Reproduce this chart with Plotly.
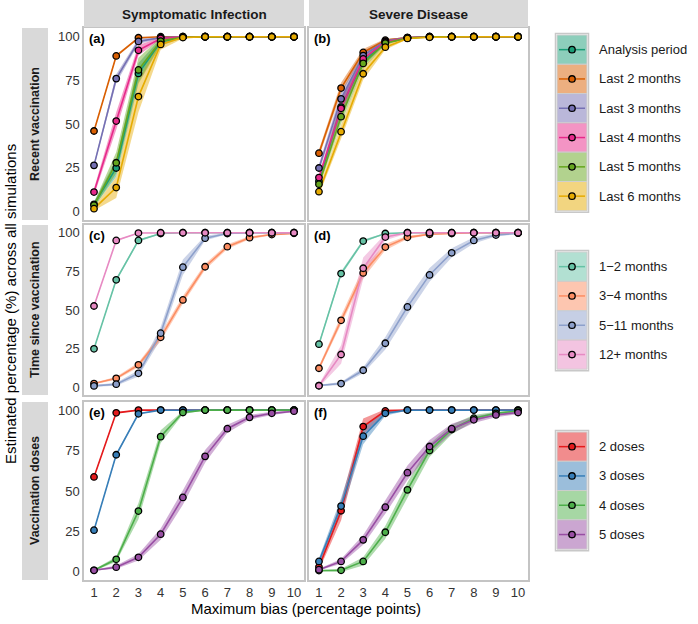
import plotly.graph_objects as go

# ============================== Data ============================== #

x_bias = [1, 2, 3, 4, 5, 6, 7, 8, 9, 10]
y_ticks = [0, 25, 50, 75, 100]

outcomes = ["Symptomatic Infection", "Severe Disease"]
factors = ["Recent vaccination", "Time since vaccination", "Vaccination doses"]
panel_tags = ["(a)", "(b)", "(c)", "(d)", "(e)", "(f)"]

recent_names = ["Analysis period", "Last 2 months", "Last 3 months",
                "Last 4 months", "Last 5 months", "Last 6 months"]
recent_colors = ["#1b9e77", "#d95f02", "#7570b3", "#e7298a", "#66a61e", "#e6ab02"]

since_names = ["1\u22122 months", "3\u22124 months", "5\u221211 months", "12+ months"]
since_colors = ["#66c2a5", "#fc8d62", "#8da0cb", "#e78ac3"]

doses_names = ["2 doses", "3 doses", "4 doses", "5 doses"]
doses_colors = ["#e41a1c", "#377eb8", "#4daf4a", "#984ea3"]

# (a) symptomatic infection / recent vaccination: estimate and ribbon half-width
recent_sympt = {
    "Analysis period": [4, 24.8, 79, 97, 99.8, 100, 100, 100, 100, 100],
    "Last 2 months": [46, 89, 99.4, 100, 100, 100, 100, 100, 100, 100],
    "Last 3 months": [26.3, 76, 97.3, 99.5, 100, 100, 100, 100, 100, 100],
    "Last 4 months": [11, 51.7, 92.2, 99, 100, 100, 100, 100, 100, 100],
    "Last 5 months": [3.5, 27.8, 81, 97.5, 99.8, 100, 100, 100, 100, 100],
    "Last 6 months": [1.5, 13.6, 65.7, 95.6, 99.5, 100, 100, 100, 100, 100],
}
recent_sympt_w = {
    "Analysis period": [1.5, 5, 6, 2, 0.5, 0, 0, 0, 0, 0],
    "Last 2 months": [0.5, 0.8, 0.5, 0, 0, 0, 0, 0, 0, 0],
    "Last 3 months": [1, 2.5, 1.5, 0.5, 0, 0, 0, 0, 0, 0],
    "Last 4 months": [2, 5, 3, 0.5, 0, 0, 0, 0, 0, 0],
    "Last 5 months": [1.5, 6, 7, 2, 0.3, 0, 0, 0, 0, 0],
    "Last 6 months": [1, 6, 9, 3, 0.5, 0, 0, 0, 0, 0],
}

# (b) severe disease / recent vaccination
recent_severe = {
    "Analysis period": [17.2, 59.7, 85.8, 96.5, 99.3, 100, 100, 100, 100, 100],
    "Last 2 months": [33.3, 70.6, 91, 98, 99.5, 100, 100, 100, 100, 100],
    "Last 3 months": [24.8, 64.4, 89.2, 97.5, 99.5, 100, 100, 100, 100, 100],
    "Last 4 months": [19.3, 59, 87.3, 97, 99.4, 100, 100, 100, 100, 100],
    "Last 5 months": [15.5, 54.2, 84.7, 96.4, 99.2, 99.9, 100, 100, 100, 100],
    "Last 6 months": [11.2, 45.6, 78.8, 94, 99, 99.7, 100, 100, 100, 100],
}
recent_severe_w = {
    "Analysis period": [2, 4, 2.5, 1, 0.3, 0, 0, 0, 0, 0],
    "Last 2 months": [2, 3, 2, 0.8, 0.2, 0, 0, 0, 0, 0],
    "Last 3 months": [2, 4, 2.5, 1, 0.3, 0, 0, 0, 0, 0],
    "Last 4 months": [2, 4, 2.5, 1, 0.3, 0, 0, 0, 0, 0],
    "Last 5 months": [2, 4, 3, 1, 0.3, 0, 0, 0, 0, 0],
    "Last 6 months": [2, 4, 3.5, 1.5, 0.5, 0.2, 0, 0, 0, 0],
}

# (c) symptomatic infection / time since vaccination
since_sympt = {
    "1\u22122 months": [24.9, 69.5, 95, 99.5, 100, 100, 100, 100, 100, 100],
    "3\u22124 months": [2.4, 5.8, 14.5, 32.3, 56.5, 78, 91, 96.8, 98.8, 99.6],
    "5\u221211 months": [0.9, 2, 9, 35, 77.7, 96.5, 99.5, 100, 100, 100],
    "12+ months": [52.6, 95, 99.8, 100, 100, 100, 100, 100, 100, 100],
}
since_sympt_w = {
    "1\u22122 months": [0.5, 1, 0.8, 0.3, 0, 0, 0, 0, 0, 0],
    "3\u22124 months": [0.5, 1, 1.5, 2.5, 2.5, 2, 1.5, 1, 0.5, 0.3],
    "5\u221211 months": [0.5, 1, 2, 4, 5, 1.5, 0.5, 0, 0, 0],
    "12+ months": [0.5, 0.5, 0.2, 0, 0, 0, 0, 0, 0, 0],
}

# (d) severe disease / time since vaccination
since_severe = {
    "1\u22122 months": [27.9, 73.6, 94.6, 99.5, 100, 100, 100, 100, 100, 100],
    "3\u22124 months": [12.3, 43.3, 74, 90.7, 97, 99, 99.5, 100, 100, 100],
    "5\u221211 months": [1.1, 2.4, 11, 28.5, 52, 72.7, 87, 95, 98.5, 99.7],
    "12+ months": [1, 21.2, 77, 97.2, 100, 100, 100, 100, 100, 100],
}
since_severe_w = {
    "1\u22122 months": [1, 1.5, 1, 0.3, 0, 0, 0, 0, 0, 0],
    "3\u22124 months": [1.5, 3, 3.5, 2, 1, 0.5, 0.3, 0, 0, 0],
    "5\u221211 months": [0.5, 1, 2, 4, 5, 4.5, 3, 2, 1, 0.5],
    "12+ months": [1, 6, 7, 2, 0.5, 0, 0, 0, 0, 0],
}

# (e) symptomatic infection / vaccination doses
doses_sympt = {
    "2 doses": [58.7, 98.3, 100, 100, 100, 100, 100, 100, 100, 100],
    "3 doses": [25.8, 72.4, 97.7, 100, 100, 100, 100, 100, 100, 100],
    "4 doses": [1, 7.8, 37.6, 83.6, 98.5, 100, 100, 100, 100, 100],
    "5 doses": [1, 2.9, 9, 23.3, 46, 71.4, 88.5, 95.5, 98, 99.3],
}
doses_sympt_w = {
    "2 doses": [0.5, 0.5, 0, 0, 0, 0, 0, 0, 0, 0],
    "3 doses": [0.5, 1, 0.5, 0, 0, 0, 0, 0, 0, 0],
    "4 doses": [0.5, 1.5, 5, 4, 1, 0, 0, 0, 0, 0],
    "5 doses": [0.3, 1, 2, 3.5, 4.5, 4, 2.5, 1.5, 1, 0.5],
}

# (f) severe disease / vaccination doses
doses_severe = {
    "2 doses": [3, 37.8, 89.8, 99.5, 100, 100, 100, 100, 100, 100],
    "3 doses": [6.5, 40.7, 83.9, 98, 100, 100, 100, 100, 100, 100],
    "4 doses": [0.8, 1, 6.5, 24.5, 50.7, 75, 88, 95, 98, 99.5],
    "5 doses": [1.4, 6.5, 19.8, 40, 61.3, 77.5, 88.5, 94, 97, 98.5],
}
doses_severe_w = {
    "2 doses": [2, 6, 5, 1, 0, 0, 0, 0, 0, 0],
    "3 doses": [2, 5, 5, 1.5, 0.3, 0, 0, 0, 0, 0],
    "4 doses": [0.3, 1, 2.5, 4, 4.5, 4, 3, 2, 1, 0.5],
    "5 doses": [0.5, 1.5, 3, 4, 4.5, 4, 3, 2, 1.5, 1],
}

# ============================== Figure geometry ============================== #

W, H = 698, 624
FONT = "Liberation Sans, Arial, sans-serif"
col_px = [(84, 304), (309, 528)]
row_px = [(28, 220), (225, 395), (402, 580)]


def fx(p):
    return p / W


def fy(p):
    return 1 - p / H


def rgba(hex_color, a):
    h = hex_color.lstrip("#")
    return "rgba(%d,%d,%d,%s)" % (int(h[0:2], 16), int(h[2:4], 16), int(h[4:6], 16), a)


def ax_id(k):
    return "" if k == 1 else str(k)


panels = [
    (recent_sympt, recent_sympt_w, recent_names, recent_colors),
    (recent_severe, recent_severe_w, recent_names, recent_colors),
    (since_sympt, since_sympt_w, since_names, since_colors),
    (since_severe, since_severe_w, since_names, since_colors),
    (doses_sympt, doses_sympt_w, doses_names, doses_colors),
    (doses_severe, doses_severe_w, doses_names, doses_colors),
]

fig = go.Figure()

for k, (vals, wid, names, colors) in enumerate(panels, start=1):
    xa, ya = "x" + ax_id(k), "y" + ax_id(k)

    # ribbons first
    for name, col in zip(names, colors):
        hi = [v + w for v, w in zip(vals[name], wid[name])]
        lo = [max(v - w, 0) for v, w in zip(vals[name], wid[name])]
        fig.add_trace(go.Scatter(x=x_bias + x_bias[::-1], y=hi + lo[::-1], fill="toself",
                                 fillcolor=rgba(col, 0.45), line=dict(width=0),
                                 mode="lines", hoverinfo="skip", showlegend=False,
                                 xaxis=xa, yaxis=ya))
    # lines
    for name, col in zip(names, colors):
        fig.add_trace(go.Scatter(x=x_bias, y=vals[name], mode="lines",
                                 line=dict(color=col, width=1.6), showlegend=False,
                                 xaxis=xa, yaxis=ya))
    # points
    for name, col in zip(names, colors):
        fig.add_trace(go.Scatter(x=x_bias, y=vals[name], mode="markers", name=name,
                                 marker=dict(color=col, size=6.5, line=dict(color="black", width=1.3)),
                                 showlegend=False, xaxis=xa, yaxis=ya))

layout = dict(width=W, height=H, margin=dict(l=0, r=0, t=0, b=0),
              paper_bgcolor="white", plot_bgcolor="white",
              font=dict(family=FONT, color="#1a1a1a"), showlegend=False)

shapes, annotations = [], []

for r in range(3):
    for c in range(2):
        k = r * 2 + c + 1
        sfx = ax_id(k)
        layout["xaxis" + sfx] = dict(
            domain=[fx(col_px[c][0]), fx(col_px[c][1])], range=[0.55, 10.45], anchor="y" + sfx,
            tickvals=x_bias, showticklabels=(r == 2), ticks="", showgrid=False, zeroline=False,
            showline=True, mirror=True, linecolor="#c4c4c4", linewidth=1.5,
            tickfont=dict(size=13, color="#333333"))
        layout["yaxis" + sfx] = dict(
            domain=[fy(row_px[r][1]), fy(row_px[r][0])], range=[-5, 105], anchor="x" + sfx,
            tickvals=y_ticks, showticklabels=(c == 0), ticks="", showgrid=False, zeroline=False,
            showline=True, mirror=True, linecolor="#c4c4c4", linewidth=1.5,
            tickfont=dict(size=13, color="#333333"))
        annotations.append(dict(text="<b>%s</b>" % panel_tags[k - 1], xref="x%s domain" % sfx,
                                yref="y%s domain" % sfx, x=0.012, y=0.995, xanchor="left",
                                yanchor="top", showarrow=False, font=dict(size=13, color="black")))

# column strips
for c, title in enumerate(outcomes):
    shapes.append(dict(type="rect", xref="paper", yref="paper", x0=fx(col_px[c][0]),
                       x1=fx(col_px[c][1]), y0=fy(27), y1=fy(0), fillcolor="#d9d9d9",
                       line=dict(width=0)))
    annotations.append(dict(text="<b>%s</b>" % title, xref="paper", yref="paper",
                            x=fx((col_px[c][0] + col_px[c][1]) / 2), y=fy(14),
                            xanchor="center", yanchor="middle",
                            showarrow=False, font=dict(size=13.5, color="#1a1a1a")))

# row strips
for r, title in enumerate(factors):
    shapes.append(dict(type="rect", xref="paper", yref="paper", x0=fx(22), x1=fx(48),
                       y0=fy(row_px[r][1]), y1=fy(row_px[r][0]), fillcolor="#d9d9d9",
                       line=dict(width=0)))
    annotations.append(dict(text="<b>%s</b>" % title, xref="paper", yref="paper", x=fx(35),
                            y=fy((row_px[r][0] + row_px[r][1]) / 2), textangle=-90,
                            xanchor="center", yanchor="middle",
                            showarrow=False, font=dict(size=12.5, color="#1a1a1a")))

# axis titles
annotations.append(dict(text="Estimated percentage (%) across all simulations", xref="paper",
                        yref="paper", x=fx(10), y=fy(304), textangle=-90, xanchor="center",
                        yanchor="middle", showarrow=False, font=dict(size=15, color="black")))
annotations.append(dict(text="Maximum bias (percentage points)", xref="paper", yref="paper",
                        x=fx(306), y=fy(608), xanchor="center", yanchor="middle",
                        showarrow=False, font=dict(size=15, color="black")))

# legends
legend_groups = [(recent_names, recent_colors, 35), (since_names, since_colors, 252),
                 (doses_names, doses_colors, 432)]
key_h = 29.3
for names, colors, top in legend_groups:
    shapes.append(dict(type="rect", xref="paper", yref="paper", x0=fx(555.5), x1=fx(588.5),
                       y0=fy(top + key_h * len(names) + 1.5), y1=fy(top - 1.5),
                       fillcolor="white", line=dict(color="#c8c8c8", width=1.5)))
    for i, (name, col) in enumerate(zip(names, colors)):
        y0 = top + i * key_h
        yc = y0 + key_h / 2
        shapes.append(dict(type="rect", xref="paper", yref="paper", x0=fx(557), x1=fx(587),
                           y0=fy(y0 + key_h), y1=fy(y0), fillcolor=rgba(col, 0.5),
                           line=dict(color="#cfcfcf", width=1)))
        shapes.append(dict(type="line", xref="paper", yref="paper", x0=fx(559), x1=fx(585),
                           y0=fy(yc), y1=fy(yc), line=dict(color=col, width=1.5)))
        shapes.append(dict(type="circle", xref="paper", yref="paper", xsizemode="pixel",
                           ysizemode="pixel", xanchor=fx(572), yanchor=fy(yc), x0=-3.2, x1=3.2,
                           y0=-3.2, y1=3.2, fillcolor=col, line=dict(color="black", width=1.3)))
        annotations.append(dict(text=name, xref="paper", yref="paper", x=fx(597), y=fy(yc),
                                xanchor="left", yanchor="middle", showarrow=False,
                                font=dict(size=13, color="#1a1a1a")))

layout["shapes"] = shapes
layout["annotations"] = annotations
fig.update_layout(**layout)

fig.write_html("out.html", config={"displayModeBar": False},
               post_script="document.body.style.margin='0';")
